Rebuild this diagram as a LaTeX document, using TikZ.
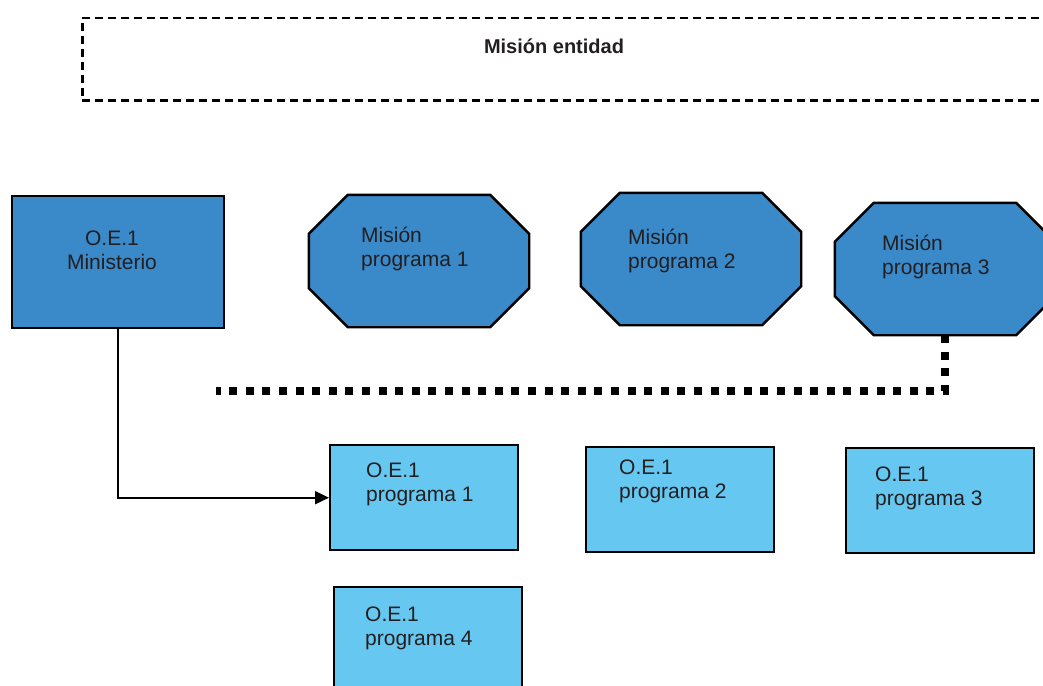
\documentclass[tikz,border=0pt]{standalone}
\usepackage{fontspec}
\setmainfont{Liberation Sans}
\usetikzlibrary{calc,arrows.meta}
\definecolor{darkblue}{HTML}{3A89C9}
\definecolor{lightblue}{HTML}{66C8F0}
\definecolor{txt}{HTML}{231F20}
\begin{document}
\begin{tikzpicture}[x=1pt,y=-1pt,
  dbox/.style={draw=black,line width=2.4pt,fill=darkblue,anchor=north west,inner sep=0pt},
  lbox/.style={draw=black,line width=2.4pt,fill=lightblue,anchor=north west,inner sep=0pt,minimum width=188pt,minimum height=105pt},
  octnode/.style={rectangle,inner sep=0pt,minimum width=220pt,minimum height=132pt},
  octline/.style={draw=black,line width=2.4pt,fill=darkblue,line join=miter},
  lab/.style={text=txt,font=\fontsize{21}{24}\selectfont,align=left,anchor=base west,inner sep=0pt},
  dotline/.style={line width=8pt,dash pattern=on 8pt off 8.6pt}
]
\useasboundingbox (0,0) rectangle (1043,685);
% top dashed box
\node[draw=black,line width=2.5pt,dash pattern=on 8pt off 5pt,anchor=north west,inner sep=0pt,minimum width=990pt,minimum height=82pt] (ent) at (81,17) {};
\node[font=\fontsize{20}{24}\selectfont\bfseries,text=txt,anchor=base,inner sep=0pt] (entl) at (554,54) {Misión entidad};
% ministerio
\node[dbox,minimum width=212pt,minimum height=132pt] (min) at (11,195) {};
\node[lab,align=center,anchor=base] (minl) at (112,269) {O.E.1\\Ministerio};
% octagons
\foreach \n/\cx/\cy in {m1/419/261, m2/691/259, m3/945/269}{
  \node[octnode] (\n) at (\cx,\cy) {};
  \path[octline] ($(\n.north west)+(39,0)$) -- ($(\n.north east)+(-39,0)$) -- ($(\n.north east)+(0,39)$)
    -- ($(\n.south east)+(0,-39)$) -- ($(\n.south east)+(-39,0)$) -- ($(\n.south west)+(39,0)$)
    -- ($(\n.south west)+(0,-39)$) -- ($(\n.north west)+(0,39)$) -- cycle;
}
\node[lab] (m1l) at (361,266) {Misión\\programa 1};
\node[lab] (m2l) at (628,268) {Misión\\programa 2};
\node[lab] (m3l) at (882,274) {Misión\\programa 3};
% light boxes
\node[lbox] (p1) at (329,444) {};
\node[lab] (p1l) at (366,501) {O.E.1\\programa 1};
\node[lbox] (p2) at (585,446) {};
\node[lab] (p2l) at (619,498) {O.E.1\\programa 2};
\node[lbox] (p3) at (845,447) {};
\node[lab] (p3l) at (875,505) {O.E.1\\programa 3};
\node[lbox,minimum height=110pt] (p4) at (333,586) {};
\node[lab] (p4l) at (365,645) {O.E.1\\programa 4};
% connectors
\coordinate (dotend) at (216,391);
\draw[dotline] (m3.south) |- (dotend);
\draw[line width=1.9pt,-{Triangle[length=14pt,width=13pt]}] (min.south) |- (p1.west);
\end{tikzpicture}
\end{document}
